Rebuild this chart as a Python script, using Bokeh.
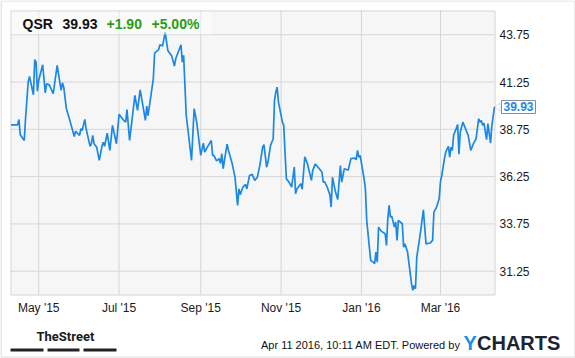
import pandas as pd
from bokeh.plotting import figure
from bokeh.models import (ColumnDataSource, Range1d, FixedTicker,
                          DatetimeTickFormatter, Label, BoxAnnotation, PolyAnnotation)
from bokeh.embed import file_html
from bokeh.resources import INLINE

# ---------------- data ----------------
dates = [
    "2015-04-10", "2015-04-15", "2015-04-16", "2015-04-17", "2015-04-20", "2015-04-21",
    "2015-04-23", "2015-04-24", "2015-04-27", "2015-04-28", "2015-04-29", "2015-04-30",
    "2015-05-01", "2015-05-04", "2015-05-06", "2015-05-07", "2015-05-09", "2015-05-12",
    "2015-05-15", "2015-05-18", "2015-05-19", "2015-05-20", "2015-05-22", "2015-05-25",
    "2015-05-28", "2015-05-29", "2015-06-01", "2015-06-02", "2015-06-03", "2015-06-05",
    "2015-06-06", "2015-06-09", "2015-06-10", "2015-06-11", "2015-06-12", "2015-06-14",
    "2015-06-16", "2015-06-18", "2015-06-19", "2015-06-20", "2015-06-22", "2015-06-24",
    "2015-06-26", "2015-06-29", "2015-07-01", "2015-07-04", "2015-07-06", "2015-07-07",
    "2015-07-09", "2015-07-13", "2015-07-15", "2015-07-17", "2015-07-21", "2015-07-22",
    "2015-07-23", "2015-07-27", "2015-07-28", "2015-07-31", "2015-08-01", "2015-08-03",
    "2015-08-05", "2015-08-07", "2015-08-10", "2015-08-12", "2015-08-13", "2015-08-17",
    "2015-08-18", "2015-08-19", "2015-08-21", "2015-08-25", "2015-08-27", "2015-08-29",
    "2015-09-01", "2015-09-03", "2015-09-04", "2015-09-06", "2015-09-09", "2015-09-10",
    "2015-09-11", "2015-09-13", "2015-09-14", "2015-09-15", "2015-09-16", "2015-09-17",
    "2015-09-18", "2015-09-21", "2015-09-22", "2015-09-23", "2015-09-25", "2015-09-27",
    "2015-09-29", "2015-09-30", "2015-10-01", "2015-10-03", "2015-10-05", "2015-10-06",
    "2015-10-08", "2015-10-10", "2015-10-12", "2015-10-14", "2015-10-16", "2015-10-18",
    "2015-10-19", "2015-10-21", "2015-10-22", "2015-10-24", "2015-10-26", "2015-10-27",
    "2015-10-28", "2015-10-29", "2015-10-30", "2015-11-02", "2015-11-03", "2015-11-04",
    "2015-11-05", "2015-11-07", "2015-11-09", "2015-11-11", "2015-11-12", "2015-11-13",
    "2015-11-16", "2015-11-17", "2015-11-19", "2015-11-21", "2015-11-24", "2015-11-25",
    "2015-11-27", "2015-11-30", "2015-12-02", "2015-12-03", "2015-12-04", "2015-12-06",
    "2015-12-08", "2015-12-09", "2015-12-10", "2015-12-12", "2015-12-14", "2015-12-16",
    "2015-12-17", "2015-12-19", "2015-12-21", "2015-12-22", "2015-12-24", "2015-12-27",
    "2015-12-28", "2015-12-29", "2015-12-30", "2015-12-31", "2016-01-03", "2016-01-04",
    "2016-01-05", "2016-01-07", "2016-01-08", "2016-01-10", "2016-01-11", "2016-01-12",
    "2016-01-13", "2016-01-14", "2016-01-16", "2016-01-19", "2016-01-20", "2016-01-21",
    "2016-01-22", "2016-01-23", "2016-01-24", "2016-01-26", "2016-01-27", "2016-01-28",
    "2016-01-29", "2016-02-01", "2016-02-02", "2016-02-03", "2016-02-05", "2016-02-08",
    "2016-02-09", "2016-02-10", "2016-02-11", "2016-02-12", "2016-02-15", "2016-02-17",
    "2016-02-19", "2016-02-22", "2016-02-24", "2016-02-25", "2016-02-27", "2016-02-29",
    "2016-03-01", "2016-03-02", "2016-03-04", "2016-03-05", "2016-03-06", "2016-03-07",
    "2016-03-08", "2016-03-09", "2016-03-10", "2016-03-11", "2016-03-13", "2016-03-14",
    "2016-03-15", "2016-03-16", "2016-03-18", "2016-03-20", "2016-03-22", "2016-03-24",
    "2016-03-26", "2016-03-28", "2016-03-30", "2016-03-31", "2016-04-01", "2016-04-02",
    "2016-04-03", "2016-04-05", "2016-04-06", "2016-04-08", "2016-04-09", "2016-04-11",
]
prices = [
    38.99, 38.99, 39.27, 38.46, 38.16, 39.31,
    41.24, 41.55, 40.58, 42.43, 42.30, 40.77,
    41.33, 42.16, 40.68, 41.16, 41.10, 40.63,
    42.13, 40.81, 41.21, 40.98, 39.84, 39.13,
    38.37, 38.65, 38.43, 38.78, 38.69, 39.27,
    38.78, 37.85, 37.99, 38.43, 37.99, 37.81,
    37.11, 37.85, 38.07, 37.85, 38.55, 37.64,
    38.96, 37.99, 39.54, 39.27, 39.13, 39.79,
    38.16, 40.54, 39.75, 40.84, 39.22, 39.98,
    39.48, 41.42, 42.78, 42.96, 43.22, 43.15,
    43.87, 42.92, 42.62, 42.09, 42.48, 43.22,
    42.30, 42.66, 39.48, 37.11, 39.84, 39.10,
    37.37, 38.02, 37.55, 37.81, 38.16, 37.37,
    37.37, 37.08, 37.14, 37.20, 36.95, 37.46,
    36.67, 37.97, 37.64, 37.40, 36.90, 36.22,
    34.73, 35.60, 35.30, 35.70, 35.84, 35.60,
    36.31, 36.37, 36.05, 36.22, 36.90, 37.81,
    37.94, 36.75, 37.02, 37.90, 38.25, 40.28,
    40.72, 40.98, 40.19, 39.13, 38.96, 37.50,
    36.14, 35.96, 35.70, 36.75, 35.35, 35.60,
    35.87, 35.58, 37.30, 36.93, 36.05, 36.58,
    36.92, 36.67, 36.49, 35.96, 35.98, 35.70,
    35.30, 34.64, 36.22, 35.52, 35.04, 36.84,
    35.96, 36.67, 36.61, 36.61, 37.20, 37.23,
    37.14, 37.64, 37.28, 37.37, 36.14, 35.61,
    33.94, 32.52, 31.82, 31.73, 31.65, 32.26,
    31.73, 33.58, 33.37, 33.23, 32.61, 34.03,
    34.73, 34.11, 34.16, 33.58, 33.85, 32.88,
    33.94, 33.76, 32.52, 32.70, 32.26, 30.59,
    30.24, 30.50, 30.32, 31.99, 33.40, 34.50,
    32.70, 32.74, 32.88, 34.37, 34.64, 35.08,
    36.00, 36.31, 37.20, 37.55, 37.70, 37.85,
    37.28, 37.81, 37.64, 38.45, 38.80, 39.01,
    37.44, 38.60, 39.13, 38.78, 38.43, 37.64,
    37.99, 38.25, 39.31, 39.13, 39.22, 38.96,
    39.08, 38.20, 39.05, 38.02, 38.96, 39.93,
]

y_ticks = [31.25, 33.75, 36.25, 38.75, 41.25, 43.75]
x_ticks = ["2015-05-01", "2015-07-01", "2015-09-01", "2015-11-01", "2016-01-01", "2016-03-01"]

symbol = "QSR"
last_price = "39.93"
change = "+1.90"
change_pct = "+5.00%"
stamp_text = "Apr 11 2016, 10:11 AM EDT. Powered by"
brand_left = "TheStreet"
logo_y = "Y"
logo_rest = "CHARTS"

# ---------------- layout constants ----------------
W, H = 575, 358
L, R, T, B = 10, 494, 10, 294          # plot area in canvas pixels
x_lo = pd.Timestamp("2015-04-09 14:00")
x_hi = pd.Timestamp("2016-04-11 00:00")
v_top, v_bot = 45.03, 30.02

FONT = "Liberation Sans"
LINE = "#1a88e4"
GREEN = "#2a9d14"
GRAY = "#8a8a8a"
GRID = "#d6d6d6"

per_px = (x_hi - x_lo) / (R - L)
upp = (v_top - v_bot) / (B - T)
xr = Range1d((x_lo - per_px * L).to_pydatetime(), (x_hi + per_px * (W - R)).to_pydatetime())
yr = Range1d(v_bot - upp * (H - B), v_top + upp * T)

def ms(ts):
    return pd.Timestamp(ts).value / 1e6

x_lo_ms, x_hi_ms = ms(x_lo), ms(x_hi)

src = ColumnDataSource(data=dict(date=pd.to_datetime(dates), price=prices))

p = figure(
    width=W, height=H, x_axis_type="datetime", y_axis_location="right",
    x_range=xr, y_range=yr, output_backend="svg", toolbar_location=None,
    min_border=0, min_border_left=0, min_border_right=0, min_border_top=0,
    min_border_bottom=0, background_fill_color="white", border_fill_color="white",
    outline_line_color=None,
)
p.xgrid.visible = False
p.ygrid.visible = False

def canvas_box(left, right, top, bottom, **kw):
    p.add_layout(BoxAnnotation(left=left, right=right, top=top, bottom=bottom,
                               left_units="canvas", right_units="canvas",
                               top_units="canvas", bottom_units="canvas", **kw))

# plot-area background
canvas_box(L, R + 1, T, B + 1, fill_color="#f6f6f6", fill_alpha=1, line_color=None,
           level="underlay")

# grid lines (limited to plot area)
xt = pd.to_datetime(x_ticks)
p.segment(x0=xt, y0=[v_bot] * len(xt), x1=xt, y1=[v_top] * len(xt),
          line_color=GRID, line_width=1)
p.segment(x0=[x_lo] * len(y_ticks), y0=y_ticks, x1=[x_hi] * len(y_ticks), y1=y_ticks,
          line_color=GRID, line_width=1)

# price line
p.line(x="date", y="price", source=src, line_color=LINE, line_width=1.7)

# axes anchored to the plot-area edges
p.xaxis.fixed_location = v_bot
p.yaxis.fixed_location = x_hi_ms
p.xaxis.ticker = FixedTicker(ticks=[ms(t) for t in x_ticks])
fmt = "%b '%y"
p.xaxis.formatter = DatetimeTickFormatter(
    milliseconds=fmt, seconds=fmt, minsec=fmt, minutes=fmt, hourmin=fmt, hours=fmt,
    days=fmt, months=fmt, years=fmt)
p.yaxis.ticker = FixedTicker(ticks=y_ticks)
for ax in (p.xaxis[0], p.yaxis[0]):
    ax.axis_line_color = None
    ax.major_tick_line_color = None
    ax.minor_tick_line_color = None
    ax.major_tick_in = 0
    ax.major_tick_out = 0
    ax.major_label_text_font = FONT
    ax.major_label_text_font_size = "12px"
    ax.major_label_text_color = "#1a1a1a"
p.xaxis.major_label_standoff = 6
p.yaxis.major_label_standoff = 5

# plot-area outline (crisp, on pixel centres)
canvas_box(L + 0.5, R + 0.5, T + 0.5, B + 0.5, fill_alpha=0, line_color=GRAY, line_width=1)

# title overlay box (semi-transparent)
canvas_box(L + 1, 211, T + 1, 34, fill_color="white", fill_alpha=0.45, line_color=None)

def canvas_label(x, y, text, size, color, style="normal", align="left", font=FONT):
    p.add_layout(Label(x=x, y=y, x_units="canvas", y_units="canvas", text=text,
                       text_font=font, text_font_size=size, text_color=color,
                       text_font_style=style, text_align=align,
                       text_baseline="middle"))

canvas_label(22, 23.3, symbol, "14px", "#111111", "bold")
canvas_label(62, 23.3, last_price, "14px", "#111111", "bold")
canvas_label(106, 23.3, change, "14px", GREEN, "bold")
canvas_label(151, 23.3, change_pct, "14px", GREEN, "bold")

# last price flag with pointer
last = prices[-1]
p.add_layout(PolyAnnotation(xs=[R + 0.5, R + 5.5, R + 5.5], ys=[last, last + 0.22, last - 0.22],
                            xs_units="canvas", ys_units="data",
                            fill_color="white", fill_alpha=1, line_color=GRAY, line_width=1))
p.add_layout(Label(x=R + 7, y=last, x_units="canvas", y_units="data",
                   text=last_price, text_font=FONT, text_font_size="12px",
                   text_font_style="bold", text_color=LINE, text_align="left",
                   text_baseline="middle", background_fill_color="white",
                   border_line_color=GRAY, padding=2))

# footer
canvas_label(36, 335.5, brand_left, "13px", "#1c1c1c", "bold", font="Roboto")
for l, r in [(10, 43), (47, 79), (83, 116)]:
    canvas_box(l, r, 348, 351, fill_color="#222222", fill_alpha=1, line_color=None)
canvas_label(460, 344.5, stamp_text, "11px", "#111111", align="right")
canvas_label(463, 342, logo_y, "20px", "#1e8fe6", "bold")
canvas_label(476.5, 342, logo_rest, "20px", "#1b2531", "bold")

# outer border
canvas_box(0.5, 574.5, 0.5, 356.5, fill_alpha=0, line_color=GRAY, line_width=1.2)

open("out.html", "w").write(file_html(p, INLINE))
